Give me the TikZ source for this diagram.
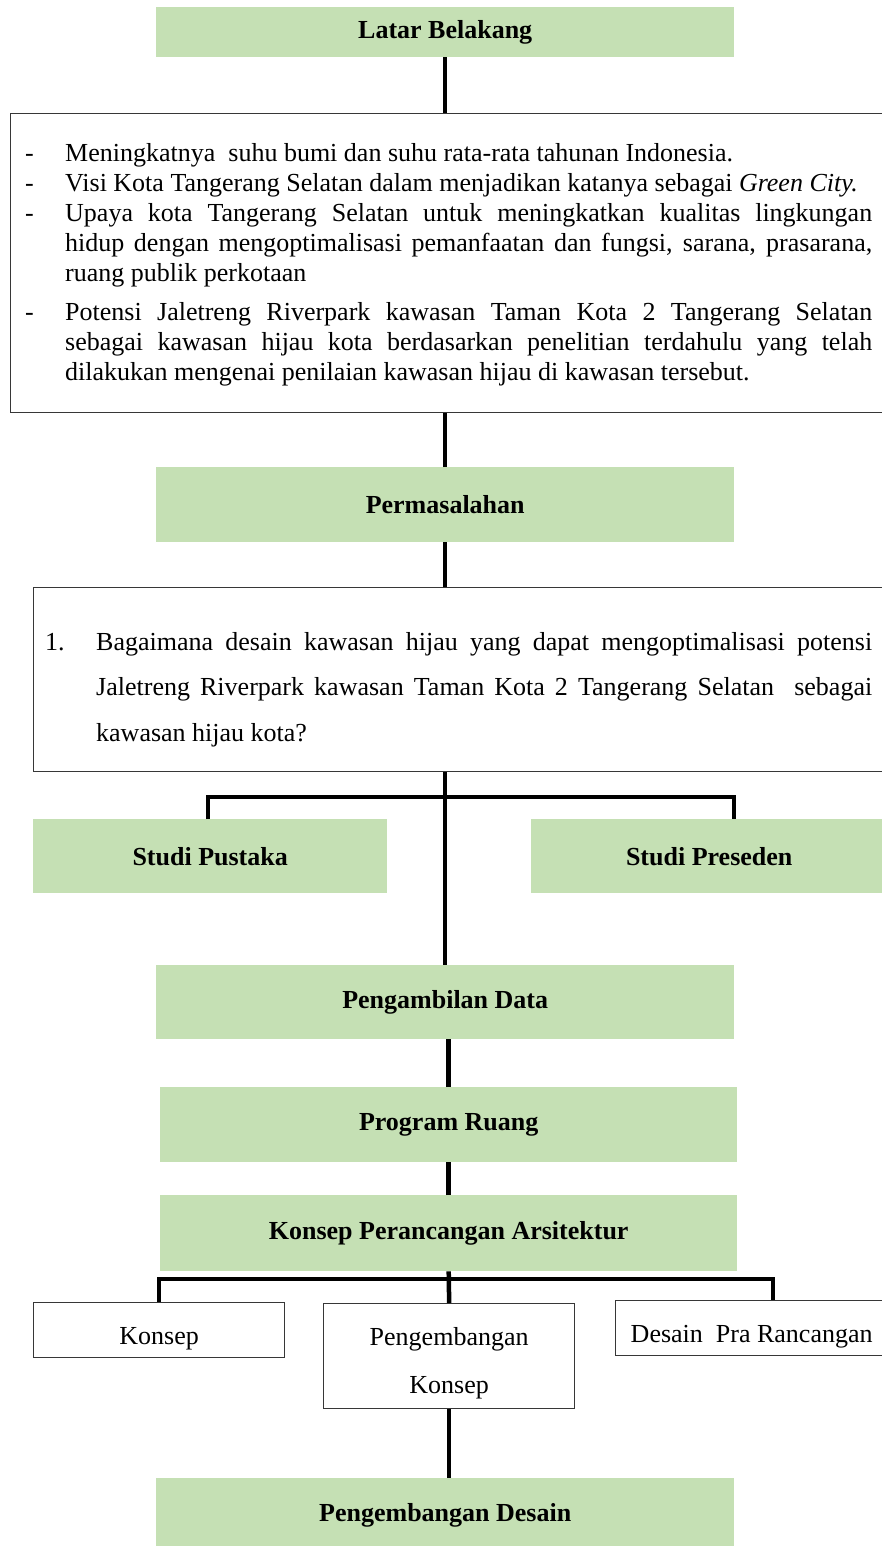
\documentclass[tikz,border=0pt]{standalone}
\usepackage{fontspec}
\setmainfont{Liberation Serif}
\definecolor{lgreen}{RGB}{197,224,180}
\definecolor{bordergray}{RGB}{55,55,55}
\newcommand{\bulitem}[1]{\par\hangindent=40pt\hangafter=1\noindent\makebox[40pt][l]{-}#1\par}
\begin{document}
\begin{tikzpicture}[x=1pt,y=-1pt,
  greenbox/.style={fill=lgreen, draw=none, inner sep=0pt, anchor=north west, font=\fontsize{26}{30}\selectfont\bfseries},
  whitebox/.style={draw=bordergray, line width=1.3pt, fill=white, inner sep=0pt, anchor=north west, font=\fontsize{26}{30}\selectfont},
  smallbox/.style={whitebox, text height=34pt},
  conn/.style={line width=4.5pt, draw=black, line join=miter},
  txt/.style={inner sep=0pt, anchor=north west}
]
\useasboundingbox (0,0) rectangle (882,1546);
\fill[white] (0,0) rectangle (882,1546);

% boxes
\node[greenbox, minimum width=578pt, minimum height=50pt] (latar) at (156,7) {Latar Belakang};
\node[whitebox, minimum width=880pt, minimum height=299pt] (box1) at (10,113) {};
\node[greenbox, minimum width=578pt, minimum height=75pt] (perm) at (156,467) {Permasalahan};
\node[whitebox, minimum width=857pt, minimum height=184pt] (box2) at (33,587) {};
\node[greenbox, minimum width=354pt, minimum height=74pt] (studiP) at (33,819) {Studi Pustaka};
\node[greenbox, minimum width=356pt, minimum height=74pt] (studiPr) at (531,819) {Studi Preseden};
\node[greenbox, minimum width=578pt, minimum height=74pt] (data) at (156,965) {Pengambilan Data};
\node[greenbox, minimum width=577pt, minimum height=75pt] (prog) at (160,1087) {Program Ruang};
\node[greenbox, minimum width=577pt, minimum height=76pt] (kpa) at (160,1195) {Konsep Perancangan Arsitektur};
\node[smallbox, minimum width=251pt, minimum height=55pt] (konsep) at (33,1302) {Konsep};
\node[whitebox, text height=80pt, minimum width=251pt, minimum height=105pt, align=center, font=\fontsize{26}{48}\selectfont] (pk) at (323,1303) {Pengembangan\\Konsep};
\node[smallbox, minimum width=272pt, minimum height=55pt] (dpr) at (615,1300) {Desain~~Pra Rancangan};
\node[greenbox, minimum width=578pt, minimum height=75pt] (pd) at (156,1478) {Pengembangan Desain};

% texts
\node[txt] (t1) at (25,143) {\begin{minipage}{847pt}\fontsize{26}{30}\selectfont
\setlength{\parindent}{0pt}\setlength{\parskip}{0pt}\tolerance=10000
\bulitem{Meningkatnya\ \ suhu bumi dan suhu rata-rata tahunan Indonesia.}
\bulitem{Visi Kota Tangerang Selatan dalam menjadikan katanya sebagai \textit{Green City.}}
\bulitem{Upaya kota Tangerang Selatan untuk meningkatkan kualitas lingkungan\linebreak hidup dengan mengoptimalisasi pemanfaatan dan fungsi, sarana, prasarana,\linebreak ruang publik perkotaan}
\vspace{9pt}
\bulitem{Potensi Jaletreng Riverpark kawasan Taman Kota 2 Tangerang Selatan\linebreak sebagai kawasan hijau kota berdasarkan penelitian terdahulu yang telah\linebreak dilakukan mengenai penilaian kawasan hijau di kawasan tersebut.}
\end{minipage}};
\node[txt] (t2) at (45,632) {\begin{minipage}{827pt}\fontsize{26}{45.5}\selectfont
\setlength{\parindent}{0pt}\tolerance=10000
\hangindent=51pt\hangafter=1\noindent\makebox[51pt][l]{1.}Bagaimana desain kawasan hijau yang dapat mengoptimalisasi potensi\linebreak Jaletreng Riverpark kawasan Taman Kota 2 Tangerang Selatan\ \ sebagai\linebreak kawasan hijau kota?\par
\end{minipage}};

% connectors
\coordinate (barL) at (208,797);
\coordinate (barR) at (734,797);
\coordinate (bar2) at (449,1279);
\coordinate (bar2R) at (773,1279);
\draw[conn] (latar.south) -- (latar.south |- box1.north);
\draw[conn] (perm.north) -- (perm.north |- box1.south);
\draw[conn] (perm.south) -- (perm.south |- box2.north);
\draw[conn] (perm.south |- box2.south) -- (perm.south |- data.north);
\draw[conn] (barL |- studiP.north) -- (barL) -- (barR) -- (barR |- studiPr.north);
\draw[conn] (prog.north) -- (prog.north |- data.south);
\draw[conn] (kpa.north) -- (kpa.north |- prog.south);
\draw[conn] (kpa.south) -- (pk.north);
\draw[conn] (konsep.north) -- (konsep.north |- bar2) -- (bar2R) -- (bar2R |- dpr.north);
\draw[conn] (pk.south) -- (pk.south |- pd.north);
\end{tikzpicture}
\end{document}
